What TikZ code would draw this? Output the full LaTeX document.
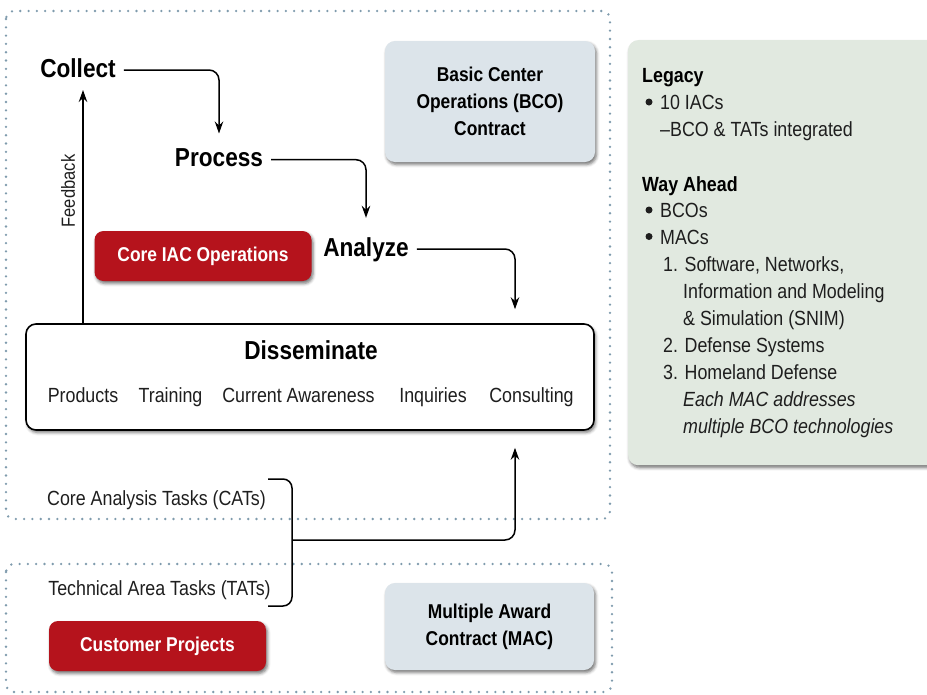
\documentclass[tikz,border=0pt]{standalone}
\usepackage{fontspec}
\setmainfont{Liberation Sans}[FakeStretch=0.87]
\usetikzlibrary{arrows.meta,shadows.blur}

\definecolor{dotblue}{HTML}{7F9BAD}
\definecolor{iacred}{HTML}{B5131C}
\definecolor{contractfill}{HTML}{DCE4EA}
\definecolor{panelfill}{HTML}{E1E9E0}
\definecolor{ink}{HTML}{1E1E1E}

\tikzset{
  region/.style={draw=dotblue, line width=2.6pt, dash pattern=on 0pt off 8.3pt,
    line cap=round, rounded corners=8pt},
  softshadow/.style={blur shadow={shadow xshift=1.5pt, shadow yshift=-2.5pt,
    shadow blur radius=3pt, shadow opacity=55}},
  heading/.style={font=\fontsize{26}{30}\selectfont\bfseries, anchor=base,
    text height=14pt, text depth=0pt, inner xsep=8pt, inner ysep=4pt},
  body/.style={font=\fontsize{20.5}{27}\selectfont, text=ink, anchor=base, inner sep=0pt},
  redbox/.style={fill=iacred, rounded corners=9pt, text=white,
    font=\fontsize{20}{24}\selectfont\bfseries, softshadow},
  contract/.style={fill=contractfill, rounded corners=10pt, align=center,
    font=\fontsize{20}{27}\selectfont\bfseries, softshadow},
  flow/.style={line width=1.5pt, rounded corners=10pt, -{Stealth[length=12pt,width=8.5pt]}},
  bracket/.style={line width=1.5pt, rounded corners=9pt},
  bulletdot/.style={circle, fill=ink, inner sep=0pt, minimum size=7pt},
  paneltext/.style={font=\fontsize{20.5}{27}\selectfont, anchor=base west, inner sep=0pt, text=ink},
  panelhead/.style={paneltext, font=\fontsize{20.5}{27}\selectfont\bfseries, text=black},
}

\begin{document}
\begin{tikzpicture}[x=1pt, y=-1pt]
\useasboundingbox (0,0) rectangle (927,694);
\clip (0,0) rectangle (927,694);

% dotted regions
\draw[region] (6,11) rectangle (610,519);
\draw[region] (6,564) rectangle (612,692);

% intelligence cycle
\node[heading] (collect) at (78,77) {Collect};
\node[heading] (process) at (219,166.7) {Process};
\node[heading] (analyze) at (366,256) {Analyze};

% contract boxes
\node[contract, minimum width=210pt, minimum height=121pt] (bco) at (490,101.5)
  {Basic Center\\Operations (BCO)\\Contract};
\node[contract, minimum width=209pt, minimum height=87pt] (mac) at (489.5,626.5)
  {Multiple Award\\Contract (MAC)};

% red labels
\node[redbox, minimum width=217pt, minimum height=50pt] (coreops) at (203,256) {Core IAC Operations};
\node[redbox, minimum width=217pt, minimum height=50pt] (custproj) at (157.5,646) {Customer Projects};

% dissemination box
\node[draw, line width=1.6pt, fill=white, rounded corners=10pt, softshadow,
  minimum width=568pt, minimum height=106pt] (dis) at (310,377) {};
\node[heading] (distitle) at (311,359) {Disseminate};
\node[body] (products) at (83,402) {Products};
\node[body] (training) at (170.5,402) {Training};
\node[body] (awareness) at (298.5,402) {Current Awareness};
\node[body] (inquiries) at (433,402) {Inquiries};
\node[body] (consulting) at (531.5,402) {Consulting};

% feedback
\coordinate (fbline) at (83,90);
\node[rotate=90, font=\fontsize{19}{22}\selectfont, text=ink, inner sep=0pt] (fblabel) at (68,191) {Feedback};

% flow arrows
\coordinate (dentry) at (515,0);
\draw[flow, shorten >=15pt] (collect.east) -| (process.north);
\draw[flow, shorten >=20pt] (process.east) -| (analyze.north);
\draw[flow, shorten >=14pt] (analyze.east) -| (dis.north -| dentry);
\draw[flow] (dis.north -| fbline) -- (fbline);

% task types and bracket
\node[body] (cats) at (156.5,505.7) {Core Analysis Tasks (CATs)};
\node[body] (tats) at (159.5,595.7) {Technical Area Tasks (TATs)};
\coordinate (brtop) at (268,479);
\coordinate (brbot) at (268,606);
\coordinate (brmid) at (292,540);
\draw[bracket] (brtop) -| (brmid) |- (brbot);
\draw[flow, shorten >=17pt] (brmid) -| (dis.south -| dentry);

% side panel
\node[fill=panelfill, rounded corners=10pt, softshadow, anchor=north west,
  minimum width=330pt, minimum height=425pt] (panel) at (628,40) {};
\node[panelhead] (legacy) at (642,82.5) {Legacy};
\node[bulletdot] (b1) at (649,102) {};
\node[paneltext] (iacs) at (660,109.5) {10 IACs};
\node[paneltext] (integ) at (660,136.5) {–BCO \& TATs integrated};
\node[panelhead] (ahead) at (642,191) {Way Ahead};
\node[bulletdot] (b2) at (649,210) {};
\node[paneltext] (bcos) at (660,217.5) {BCOs};
\node[bulletdot] (b3) at (649,236.5) {};
\node[paneltext] (macs) at (660,244) {MACs};
\node[paneltext] (m1) at (663,271) {1. Software, Networks,};
\node[paneltext] (m1b) at (683,298) {Information and Modeling};
\node[paneltext] (m1c) at (683,325) {\& Simulation (SNIM)};
\node[paneltext] (m2) at (663,352) {2. Defense Systems};
\node[paneltext] (m3) at (663,379) {3. Homeland Defense};
\node[paneltext, font=\fontsize{20.5}{27}\selectfont\itshape] (note1) at (683,406) {Each MAC addresses};
\node[paneltext, font=\fontsize{20.5}{27}\selectfont\itshape] (note2) at (683,433) {multiple BCO technologies};
\end{tikzpicture}
\end{document}
